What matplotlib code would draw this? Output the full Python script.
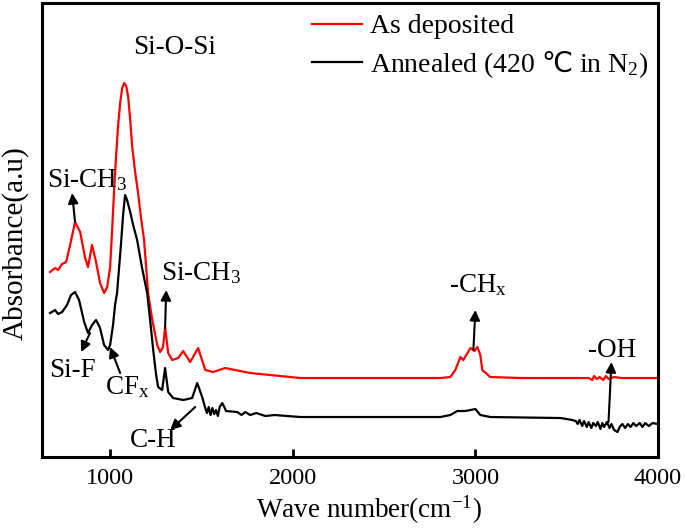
import numpy as np
import matplotlib
matplotlib.use("Agg")
import matplotlib.pyplot as plt

##### FONTS #####
plt.rcParams['font.family'] = ['Liberation Serif', 'DejaVu Serif', 'DejaVu Sans']
plt.rcParams['mathtext.fontset'] = 'custom'
plt.rcParams['mathtext.rm'] = 'Liberation Serif'
plt.rcParams['mathtext.it'] = 'Liberation Serif:italic'
plt.rcParams['mathtext.sf'] = 'Noto Sans CJK SC'   ###!### only used for the degree sign
plt.rcParams['mathtext.default'] = 'regular'

##### DATA #####
wn_dep = [671, 699, 715, 737, 759, 781, 808, 836, 863, 879, 901, 923, 945, 967, 984,
          1000, 1011, 1022, 1033, 1044, 1055, 1066, 1077, 1088, 1099, 1110, 1121, 1137,
          1153, 1170, 1186, 1208, 1230, 1258, 1274, 1290, 1301, 1318, 1340, 1373, 1400,
          1438, 1482, 1521, 1564, 1630, 1767, 2041, 2808, 2863, 2890, 2918, 2934, 2973,
          2995, 3011, 3027, 3038, 3082, 3246, 3600, 3620, 3640, 3650, 3665, 3680, 3700,
          3715, 3730, 3760, 3800, 3997]
ab_dep = [1.85, 1.89, 1.87, 1.93, 1.95, 2.12, 2.35, 2.25, 1.99, 1.90, 2.12, 1.95, 1.74, 1.64, 1.70,
          1.90, 2.27, 2.67, 3.02, 3.32, 3.54, 3.69, 3.74, 3.71, 3.60, 3.37, 3.10, 2.85,
          2.64, 2.38, 2.17, 1.64, 1.38, 1.12, 1.05, 1.10, 1.30, 1.04, 0.97, 0.99, 1.06,
          0.95, 1.09, 0.87, 0.85, 0.89, 0.84, 0.79, 0.79, 0.80, 0.87, 1.00, 0.97, 1.09,
          1.06, 1.10, 1.02, 0.87, 0.80, 0.79, 0.79, 0.79, 0.77, 0.81, 0.78, 0.80, 0.77,
          0.81, 0.78, 0.80, 0.79, 0.79]

wn_ann = [671, 699, 715, 737, 764, 786, 808, 830, 858, 879, 901, 923, 945, 967, 989,
          1000, 1016, 1027, 1038, 1049, 1060, 1071, 1082, 1093, 1110, 1126, 1148, 1175,
          1203, 1219, 1236, 1252, 1263, 1285, 1301, 1318, 1345, 1400, 1449, 1477, 1504,
          1521, 1530, 1540, 1550, 1560, 1570, 1580, 1590, 1600, 1614, 1625, 1635, 1696,
          1720, 1740, 1767, 1800, 1850, 1900, 2041, 2808, 2863, 2901, 2945, 2973, 3000,
          3027, 3082, 3466, 3500, 3530, 3550, 3560, 3570, 3585, 3595, 3610, 3620, 3635,
          3645, 3660, 3670, 3685, 3695, 3705, 3720, 3735, 3745, 3760, 3778, 3790, 3805,
          3820, 3835, 3850, 3865, 3880, 3900, 3915, 3930, 3950, 3970, 3997]
ab_ann = [1.44, 1.47, 1.43, 1.45, 1.52, 1.62, 1.65, 1.57, 1.35, 1.24, 1.32, 1.37, 1.29, 1.12, 1.07,
          1.12, 1.32, 1.52, 1.64, 1.89, 2.14, 2.42, 2.62, 2.57, 2.45, 2.32, 2.17, 1.89,
          1.64, 1.37, 1.07, 0.82, 0.70, 0.67, 0.89, 0.65, 0.59, 0.57, 0.59, 0.74, 0.60,
          0.49, 0.44, 0.50, 0.42, 0.49, 0.43, 0.47, 0.41, 0.50, 0.54, 0.50, 0.46, 0.45,
          0.42, 0.45, 0.42, 0.44, 0.41, 0.42, 0.40, 0.40, 0.42, 0.46, 0.46, 0.47, 0.48,
          0.42, 0.40, 0.39, 0.38, 0.37, 0.36, 0.33, 0.37, 0.31, 0.36, 0.30, 0.35, 0.29,
          0.34, 0.31, 0.35, 0.28, 0.34, 0.30, 0.35, 0.29, 0.33, 0.27, 0.25, 0.30, 0.33,
          0.29, 0.33, 0.30, 0.34, 0.31, 0.34, 0.30, 0.34, 0.31, 0.34, 0.33]

labels = ['As deposited', 'Annealed (420 $\\mathsf{\u2103}$ in N$_2$)']

# band labels: text, text position, arrow tail, arrow head
bands = [('Si-CH$_3$', (874, 2.77), (808, 2.35), (792, 2.64)),
         ('Si-F', (792, 0.87), (890, 1.24), (841, 1.05)),
         ('CF$_x$', (1093, 0.70), (1055, 0.84), (1000, 1.10)),
         ('Si-CH$_3$', (1499, 1.84), (1301, 1.29), (1307, 1.67)),
         ('C-H', (1236, 0.17), (1466, 0.50), (1329, 0.27)),
         ('-CH$_x$', (3016, 1.72), (2989, 1.07), (3000, 1.47)),
         ('-OH', (3750, 1.07), (3729, 0.35), (3745, 0.95))]

##### PLOT #####
fig = plt.figure(figsize=(6.85, 5.3), dpi=100)
ax = fig.add_axes([0.0613, 0.1377, 0.8993, 0.8566])

ax.plot(wn_dep, ab_dep, color='red', lw=1.6, label=labels[0])
ax.plot(wn_ann, ab_ann, color='black', lw=1.6, label=labels[1])

ax.set_xlim(627, 4000)
ax.set_ylim(0, 4.54)
ax.set_xticks([1000, 2000, 3000, 4000])
ax.set_yticks([])
ax.tick_params(axis='x', direction='in', width=2, length=6, labelsize=17.5, pad=8)
for s in ax.spines.values():
    s.set_linewidth(2.2)

ax.set_xlabel('Wave number(cm$^{-1}$)', fontsize=19.5)
ax.xaxis.set_label_coords(0.531, -0.082)
ax.set_ylabel('Absorbance(a.u)', fontsize=21)
ax.yaxis.set_label_coords(-0.022, 0.471)

ax.text(1351, 4.10, 'Si-O-Si', fontsize=19.5, ha='center', va='center')
for txt, tpos, tail, head in bands:
    ax.text(tpos[0], tpos[1], txt, fontsize=19.5, ha='center', va='center')
    ax.annotate('', xy=head, xytext=tail,
                arrowprops=dict(arrowstyle='-|>', color='black', lw=1.5,
                                mutation_scale=15, shrinkA=0, shrinkB=0))

ax.legend(loc='upper left', bbox_to_anchor=(312 / 685, 1 - 14 / 530),
          bbox_transform=fig.transFigure, frameon=False, fontsize=20,
          handlelength=1.8, handletextpad=0.3, labelspacing=0.35,
          borderpad=0, borderaxespad=0)

fig.savefig('out.png', dpi=100)
